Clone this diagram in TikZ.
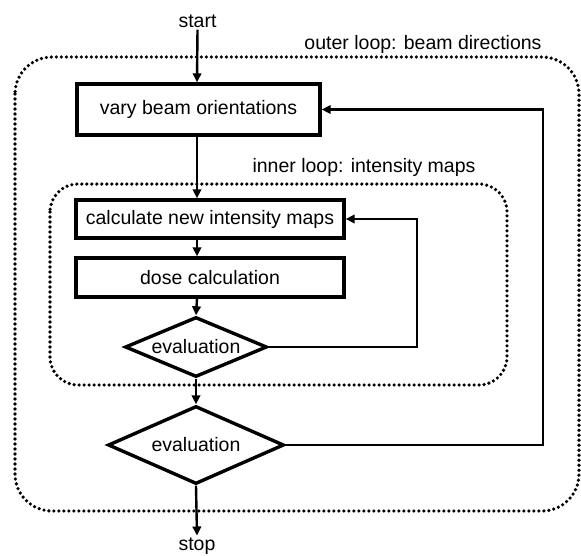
\documentclass[tikz,border=0pt]{standalone}
\usepackage{fontspec}
\setmainfont{Liberation Sans}
\usetikzlibrary{shapes.geometric,arrows.meta}
\begin{document}
\begin{tikzpicture}[x=1pt,y=-1pt,
  every node/.style={font=\fontsize{19.5}{22}\selectfont},
  box/.style={draw, line width=3.4pt, inner sep=0pt},
  dec/.style={draw, diamond, line width=3.4pt, inner sep=0pt, aspect=2.3},
  conn/.style={line width=2.4pt, -{Triangle[length=9pt,width=8.5pt]}},
  loopbox/.style={line width=3.6pt, dash pattern=on 0pt off 5pt, line cap=round},
  lbl/.style={inner sep=2pt}]
\useasboundingbox (0,0) rectangle (581,555);
% loops
\draw[loopbox, rounded corners=37pt] (15,57) rectangle (579,511);
\draw[loopbox, rounded corners=28pt] (50,184) rectangle (507,385);
\node[lbl] (outerlbl) at (423,44) {outer loop: beam directions};
\node[lbl] (innerlbl) at (364,167) {inner loop: intensity maps};
% nodes
\node[lbl] (start) at (197.5,21) {start};
\node[box, minimum width=243pt, minimum height=51pt] (vary) at (198.5,109.5) {vary beam orientations};
\node[box, minimum width=268pt, minimum height=38pt] (calc) at (210,219) {calculate new intensity maps};
\node[box, minimum width=268pt, minimum height=39pt] (dose) at (210,277.5) {dose calculation};
\node[dec, minimum width=142pt, minimum height=60pt] (ev1) at (196,347) {evaluation};
\node[dec, minimum width=176pt, minimum height=78pt] (ev2) at (196,445) {evaluation};
\node[lbl] (stop) at (197,546) {stop};
\coordinate (col) at (197,0);
\coordinate (fb1) at (543,300);
\coordinate (fb2) at (417,280);
% connectors
\draw[conn] (start.south) -- (col |- vary.north);
\draw[conn] (col |- vary.south) -- (col |- calc.north);
\draw[conn] (col |- calc.south) -- (col |- dose.north);
\draw[conn] (col |- dose.south) -- (ev1.north);
\draw[conn] (ev1.south) -- (ev2.north);
\draw[conn] (ev2.south) -- (stop.north);
\draw[conn] (ev1.east) -| (fb2) |- (calc.east);
\draw[conn] (ev2.east) -| (fb1) |- (vary.east);
\end{tikzpicture}
\end{document}
